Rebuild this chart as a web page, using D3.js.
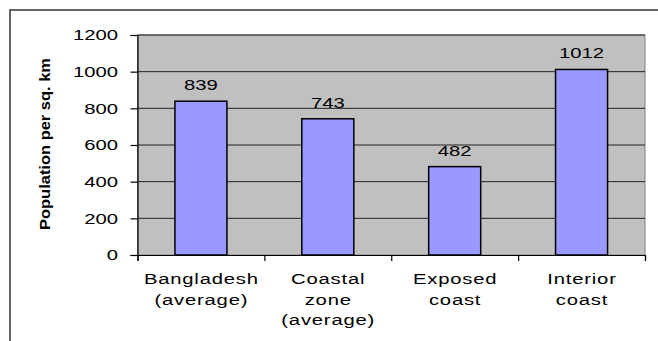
<!DOCTYPE html>
<html>
<head>
<meta charset="utf-8">
<script src="https://cdn.jsdelivr.net/npm/d3@7"></script>
<style>
  html, body { margin: 0; padding: 0; background: #fff; }
  svg { display: block; font-family: "Liberation Sans", Arial, sans-serif; }
</style>
</head>
<body>
<svg id="chart" width="658" height="341"></svg>
<script>
// Population density by zone
const categories = [
  ["Bangladesh", "(average)"],
  ["Coastal", "zone", "(average)"],
  ["Exposed", "coast"],
  ["Interior", "coast"]
];
const values = [839, 743, 482, 1012];
const yTicks = [0, 200, 400, 600, 800, 1000, 1200];
const yTitle = "Population per sq. km";

const FS = 15;     // label font size
const SX = 1.35;   // horizontal stretch of label glyphs
const LS = 0.6;    // letter spacing for word labels (before stretch)

const svg = d3.select("#chart");

// outer frame
svg.append("rect")
  .attr("x", 10).attr("y", 10)
  .attr("width", 660).attr("height", 340)
  .attr("fill", "none").attr("stroke", "#333").attr("stroke-width", 1.5);

const plot = { left: 137.5, right: 645, top: 35, bottom: 255 };

const x = d3.scaleBand()
  .domain(d3.range(categories.length))
  .range([plot.left, plot.right])
  .padding(0);

const y = d3.scaleLinear()
  .domain([0, 1200])
  .range([plot.bottom, plot.top]);

// plot background
svg.append("rect")
  .attr("x", plot.left).attr("y", plot.top)
  .attr("width", plot.right - plot.left)
  .attr("height", plot.bottom - plot.top)
  .attr("fill", "#c0c0c0")
  .attr("stroke", "#808080").attr("stroke-width", 1);

// gridlines
svg.append("g")
  .selectAll("line")
  .data(yTicks.filter(d => d > 0))
  .join("line")
  .attr("x1", plot.left).attr("x2", plot.right)
  .attr("y1", d => y(d)).attr("y2", d => y(d))
  .attr("stroke", "#222").attr("stroke-width", 1);

// bars
const barW = x.bandwidth() * 0.41;
svg.append("g")
  .selectAll("rect")
  .data(values)
  .join("rect")
  .attr("x", (d, i) => x(i) + (x.bandwidth() - barW) / 2)
  .attr("y", d => y(d))
  .attr("width", barW)
  .attr("height", d => y(0) - y(d))
  .attr("fill", "#9999ff")
  .attr("stroke", "#000").attr("stroke-width", 1.5);

// value labels
svg.append("g")
  .selectAll("text")
  .data(values)
  .join("text")
  .attr("transform", (d, i) => `translate(${x(i) + x.bandwidth() / 2},${y(d) - 11}) scale(${SX},1)`)
  .attr("text-anchor", "middle")
  .attr("font-size", FS)
  .attr("fill", "#000")
  .text(d => d);

// y axis
const yAxis = d3.axisLeft(y).tickValues(yTicks).tickSize(7).tickPadding(12).tickFormat(d3.format("d"));
const gy = svg.append("g")
  .attr("transform", `translate(${plot.left},0)`)
  .call(yAxis);
gy.select(".domain").attr("stroke", "#000").attr("stroke-width", 1.2);
gy.selectAll(".tick line").attr("stroke", "#000").attr("stroke-width", 1.2);
gy.selectAll(".tick text")
  .attr("x", -19.5 / SX)
  .attr("transform", `scale(${SX},1)`)
  .attr("font-size", FS)
  .attr("font-family", "Liberation Sans, Arial, sans-serif")
  .attr("fill", "#000");

// x axis
const xEdge = d3.scaleLinear().domain([0, categories.length]).range([plot.left, plot.right]);
const gx = svg.append("g")
  .attr("transform", `translate(0,${plot.bottom})`)
  .call(d3.axisBottom(xEdge).tickValues(d3.range(categories.length + 1)).tickSize(6).tickFormat(""));
gx.select(".domain").attr("stroke", "#000").attr("stroke-width", 1.2);
gx.selectAll(".tick line").attr("stroke", "#000").attr("stroke-width", 1.2);

// category labels
const catG = svg.append("g");
categories.forEach((lines, i) => {
  const t = catG.append("text")
    .attr("transform", `translate(${x(i) + x.bandwidth() / 2},0) scale(${SX},1)`)
    .attr("text-anchor", "middle")
    .attr("font-size", FS)
    .attr("letter-spacing", LS)
    .attr("fill", "#000");
  lines.forEach((ln, j) => {
    t.append("tspan")
      .attr("x", LS / 2)
      .attr("y", 284.5 + j * 20.3)
      .text(ln);
  });
});

// y title
svg.append("text")
  .attr("transform", `translate(49.5,${(58 + 230) / 2}) rotate(-90)`)
  .attr("text-anchor", "middle")
  .attr("font-size", 14)
  .attr("font-weight", "bold")
  .attr("textLength", 172)
  .attr("lengthAdjust", "spacingAndGlyphs")
  .text(yTitle);
</script>
</body>
</html>
